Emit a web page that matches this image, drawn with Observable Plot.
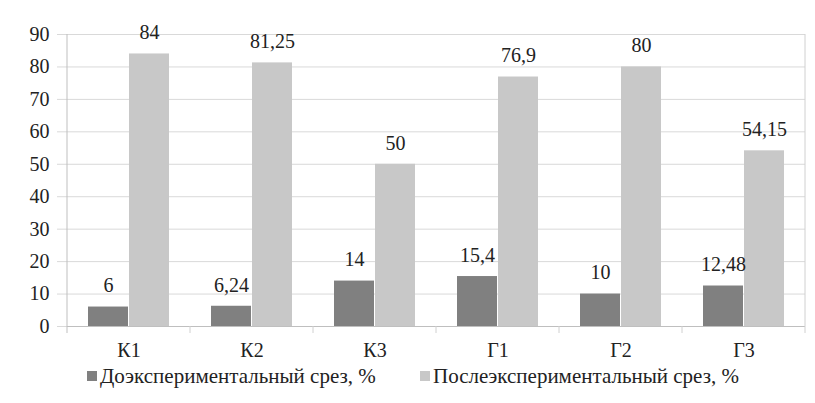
<!DOCTYPE html>
<html>
<head>
<meta charset="utf-8">
<script src="https://cdn.jsdelivr.net/npm/d3@7"></script>
<script src="https://cdn.jsdelivr.net/npm/@observablehq/plot@0.6"></script>
<style>
  #wrap { position: relative; width: 815px; height: 403px; font-family: "Liberation Serif", serif; font-size: 20px; color: #222; background: #fff; }
  .legend { position: relative; height: 43px; }
  .legend .item { position: absolute; top: 4px; display: flex; align-items: center; height: 24px; font-family: "Liberation Serif", serif; font-size: 21px; white-space: nowrap; }
  .legend .sw { display: inline-block; width: 10px; height: 10px; margin-right: 3px; }
</style>
</head>
<body style="margin:0">
<div id="wrap"></div>
<script>
const categories = ["К1", "К2", "К3", "Г1", "Г2", "Г3"];
const seriesNames = ["Доэкспериментальный срез, %", "Послеэкспериментальный срез, %"];
const before = [6, 6.24, 14, 15.4, 10, 12.48];
const after = [84, 81.25, 50, 76.9, 80, 54.15];
const yTicks = [0, 10, 20, 30, 40, 50, 60, 70, 80, 90];
const colors = ["#808080", "#c8c8c8"];

const data = [];
categories.forEach((c, i) => {
  data.push({cat: c, series: seriesNames[0], value: before[i]});
  data.push({cat: c, series: seriesNames[1], value: after[i]});
});
const fmt = v => String(v).replace(".", ",");
const FONT = "'Liberation Serif', serif";

const W = 815, H = 360;
const plot = Plot.plot({
  width: W,
  height: H,
  marginLeft: 66,
  marginRight: 10,
  marginTop: 34,
  marginBottom: 34,
  style: {fontFamily: FONT, fontSize: "20px", color: "#222", background: "#fff"},
  fx: {domain: categories, padding: 0, label: null, axis: null},
  x: {domain: seriesNames, paddingInner: 0.02, paddingOuter: 0.5, axis: null},
  y: {domain: [0, 90], label: null, axis: null},
  color: {domain: seriesNames, range: colors},
  marks: [
    Plot.ruleY(yTicks.slice(1), {y: d => d, stroke: "#d9d9d9", strokeWidth: 1}),
    Plot.axisY(yTicks, {tickSize: 10, tickPadding: 8, stroke: "#d9d9d9", strokeOpacity: 1, fill: "#222", label: null, fontSize: 20, fontFamily: FONT}),
    Plot.axisFx({anchor: "bottom", tickSize: 0, tickPadding: 16, label: null, fontSize: 20, fill: "#222", fontFamily: FONT}),
    Plot.barY(data, {fx: "cat", x: "series", y: "value", fill: "series"}),
    Plot.ruleY([0], {stroke: "#bfbfbf", strokeWidth: 1}),
    Plot.text(data, {fx: "cat", x: "series", y: "value", text: d => fmt(d.value), dy: -21, fill: "#222", fontSize: 20, fontFamily: FONT, textAnchor: "middle"})
  ]
});

// category boundary ticks and frame edges, placed with the plot's own scales
const fx = plot.scale("fx");
const ys = plot.scale("y");
const y0 = ys.apply(0), yTop = ys.apply(90);
const svg = d3.select(plot);
const bounds = categories.map(c => fx.apply(c));
bounds.push(fx.apply(categories[categories.length - 1]) + fx.bandwidth);
const g = svg.append("g");
bounds.forEach((bx, i) => {
  const isEdge = i === 0 || i === bounds.length - 1;
  g.append("line")
    .attr("x1", bx).attr("x2", bx)
    .attr("y1", isEdge ? yTop : y0).attr("y2", y0 + 7)
    .attr("stroke", i === 0 ? "#bfbfbf" : "#d0d0d0");
});

const wrap = document.getElementById("wrap");
wrap.appendChild(plot);
const legend = document.createElement("div");
legend.className = "legend";
const legendLeft = [87, 420];
seriesNames.forEach((s, i) => {
  const it = document.createElement("div");
  it.className = "item";
  it.style.left = legendLeft[i] + "px";
  const sw = document.createElement("span");
  sw.className = "sw";
  sw.style.background = colors[i];
  const tx = document.createElement("span");
  tx.textContent = s;
  it.appendChild(sw); it.appendChild(tx);
  legend.appendChild(it);
});
wrap.appendChild(legend);
</script>
</body>
</html>
